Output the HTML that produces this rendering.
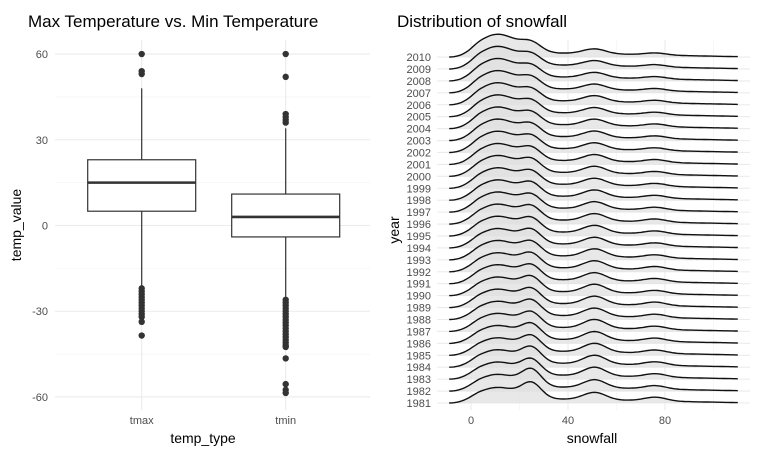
<!DOCTYPE html>
<html><head><meta charset="utf-8"><style>
body{margin:0;background:#fff;font-family:"Liberation Sans",sans-serif}
svg text{font-family:"Liberation Sans",sans-serif}
</style></head><body>
<svg id="c" width="768" height="460">
<text x="28" y="27" font-size="17" fill="#000">Max Temperature vs. Min Temperature</text>
<text x="397" y="27" font-size="17" fill="#000">Distribution of snowfall</text>
<g id="L"></g><g id="R"></g>
</svg>
<script>
// ---- Left boxplot data ----
const boxCategories = ["tmax","tmin"];
const boxLowWhisker = [-21.5, -25.5];
const boxQ1 = [5, -4];
const boxMedian = [15, 3];
const boxQ3 = [23, 11];
const boxHighWhisker = [48, 34];
const outliersTmax = [53,54,60,-22,-23,-24,-25,-26,-27,-28,-29,-30,-31,-32,-33.7,-38.5];
const outliersTmin = [36,37,38,39,52,60,-26,-27,-28,-29,-30,-31,-32,-33,-34,-35,-36,-37,-38,-39,-40,-41,-42,-42.5,-46.5,-55.5,-57.5,-58.6];
const yTicks = [-60,-30,0,30,60];
const yMinor = [-45,-15,15,45];
// ---- Right ridgeline data ----
const years = [];
for(let y=1981;y<=2010;y++) years.push(y);
const peakCenters = [11, 25, 51, 76];
// peak heights per year, [p1,p2,p3,p4]
const peakHeights = [
[0.62,0.78,0.38,0.2],[0.68,0.85,0.42,0.18],[0.7,0.75,0.45,0.18],[0.72,0.75,0.45,0.18],[0.72,0.72,0.45,0.17],
[0.74,0.72,0.44,0.17],[0.75,0.7,0.45,0.17],[0.76,0.7,0.42,0.17],[0.77,0.68,0.42,0.18],[0.78,0.68,0.42,0.17],
[0.8,0.66,0.4,0.17],[0.8,0.65,0.4,0.17],[0.82,0.64,0.4,0.16],[0.82,0.64,0.38,0.16],[0.84,0.62,0.38,0.16],
[0.85,0.62,0.37,0.16],[0.86,0.6,0.37,0.15],[0.87,0.6,0.36,0.15],[0.88,0.58,0.35,0.15],[0.9,0.58,0.35,0.15],
[0.9,0.56,0.34,0.15],[0.92,0.55,0.33,0.14],[0.93,0.54,0.32,0.14],[0.94,0.53,0.32,0.14],[0.95,0.52,0.3,0.13],
[0.96,0.5,0.3,0.13],[0.97,0.5,0.28,0.12],[0.98,0.48,0.27,0.12],[0.99,0.46,0.26,0.12],[1.0,0.45,0.25,0.11]];
const xTicks = [0,40,80];
const xGrid = [0,20,40,60,80,100];

const NS="http://www.w3.org/2000/svg";
function mk(p,tag,a){const e=document.createElementNS(NS,tag);for(const k in a)e.setAttribute(k,a[k]);p.appendChild(e);return e;}
const L=document.getElementById('L');
const yS=v=>225.5-v*2.858;
const xL=i=>141.7+i*144;
yMinor.forEach(v=>{const e=mk(L,'line',{x1:55,x2:370,y1:yS(v),y2:yS(v),stroke:'#f2f2f2','stroke-width':0.6});

});
yTicks.forEach(v=>{const e=mk(L,'line',{x1:55,x2:370,y1:yS(v),y2:yS(v),stroke:'#ebebeb','stroke-width':1.1});


const t=mk(L,'text',{x:48,y:yS(v)+4,'font-size':11,fill:'#4d4d4d','text-anchor':'end'});t.textContent=v;

});
boxCategories.forEach((c,i)=>{const e=mk(L,'line',{x1:xL(i),x2:xL(i),y1:40,y2:410,stroke:'#ebebeb','stroke-width':1.1});


const t=mk(L,'text',{x:xL(i),y:424,'font-size':11,fill:'#4d4d4d','text-anchor':'middle'});t.textContent=c;

});
boxCategories.forEach((c,i)=>{const x=xL(i),hw=54;
const g=mk(L,'g',{});


mk(g,'line',{x1:x,x2:x,y1:yS(boxHighWhisker[i]),y2:yS(boxQ3[i]),stroke:'#333','stroke-width':1.2});
mk(g,'line',{x1:x,x2:x,y1:yS(boxQ1[i]),y2:yS(boxLowWhisker[i]),stroke:'#333','stroke-width':1.2});
mk(g,'rect',{x:x-hw,y:yS(boxQ3[i]),width:hw*2,height:yS(boxQ1[i])-yS(boxQ3[i]),fill:'#fff',stroke:'#333','stroke-width':1.2});
mk(g,'line',{x1:x-hw,x2:x+hw,y1:yS(boxMedian[i]),y2:yS(boxMedian[i]),stroke:'#333','stroke-width':2.6});
(i==0?outliersTmax:outliersTmin).forEach(v=>{const p=mk(g,'circle',{cx:x,cy:yS(v),r:3.2,fill:'#333'});

});
});
let t=mk(L,'text',{x:203,y:443,'font-size':14,'text-anchor':'middle'});t.textContent='temp_type';


t=mk(L,'text',{x:0,y:0,'font-size':14,'text-anchor':'middle',transform:'translate(21,225) rotate(-90)'});t.textContent='temp_value';


// right
const R=document.getElementById('R');
const xS=v=>471+v*2.425;
const base=i=>403-i*11.93;
xGrid.forEach(v=>{const e=mk(R,'line',{x1:xS(v),x2:xS(v),y1:40,y2:410,stroke:v%40==0?'#ebebeb':'#f2f2f2','stroke-width':v%40==0?1.1:0.6});

});
years.forEach((y,i)=>{const e=mk(R,'line',{x1:437,x2:750,y1:base(i),y2:base(i),stroke:'#ebebeb','stroke-width':1.1});


const tt=mk(R,'text',{x:431,y:base(i)+4,'font-size':11,fill:'#4d4d4d','text-anchor':'end'});tt.textContent=y;

});
xTicks.forEach(v=>{const tt=mk(R,'text',{x:xS(v),y:424,'font-size':11,fill:'#4d4d4d','text-anchor':'middle'});tt.textContent=v;

});
const widths=[8,4,4.5,4.5];
for(let i=years.length-1;i>=0;i--){
 const h=peakHeights[i];let pts=[];
 for(let v=-9;v<=110;v+=1){
  let bg = v<45 ? 0.2 : (v<80 ? 0.2-(v-45)*0.003 : Math.max(0.02,0.095-(v-80)*0.0025));
  let d=bg;
  for(let k=0;k<4;k++)d+=h[k]*Math.exp(-0.5*((v-peakCenters[k])/widths[k])**2);
  if(v<4){const f=Math.max(0,(v+9)/13);d*=f*f*(3-2*f);}
  pts.push([xS(v),base(i)-d*19]);}
 const line=pts.map((p,j)=>(j?'L':'M')+p[0].toFixed(1)+' '+p[1].toFixed(1)).join('');
 const a=mk(R,'path',{d:line+'L'+xS(110)+' '+base(i)+'L'+xS(-9)+' '+base(i)+'Z',fill:'#e0e0e0','fill-opacity':0.75,stroke:'none'});
 
 
 const l=mk(R,'path',{d:line,fill:'none',stroke:'#111','stroke-width':1.4});
 
 
}
t=mk(R,'text',{x:592,y:443,'font-size':14,'text-anchor':'middle'});t.textContent='snowfall';


t=mk(R,'text',{x:0,y:0,'font-size':14,'text-anchor':'middle',transform:'translate(399,230) rotate(-90)'});t.textContent='year';


</script>
</body></html>
